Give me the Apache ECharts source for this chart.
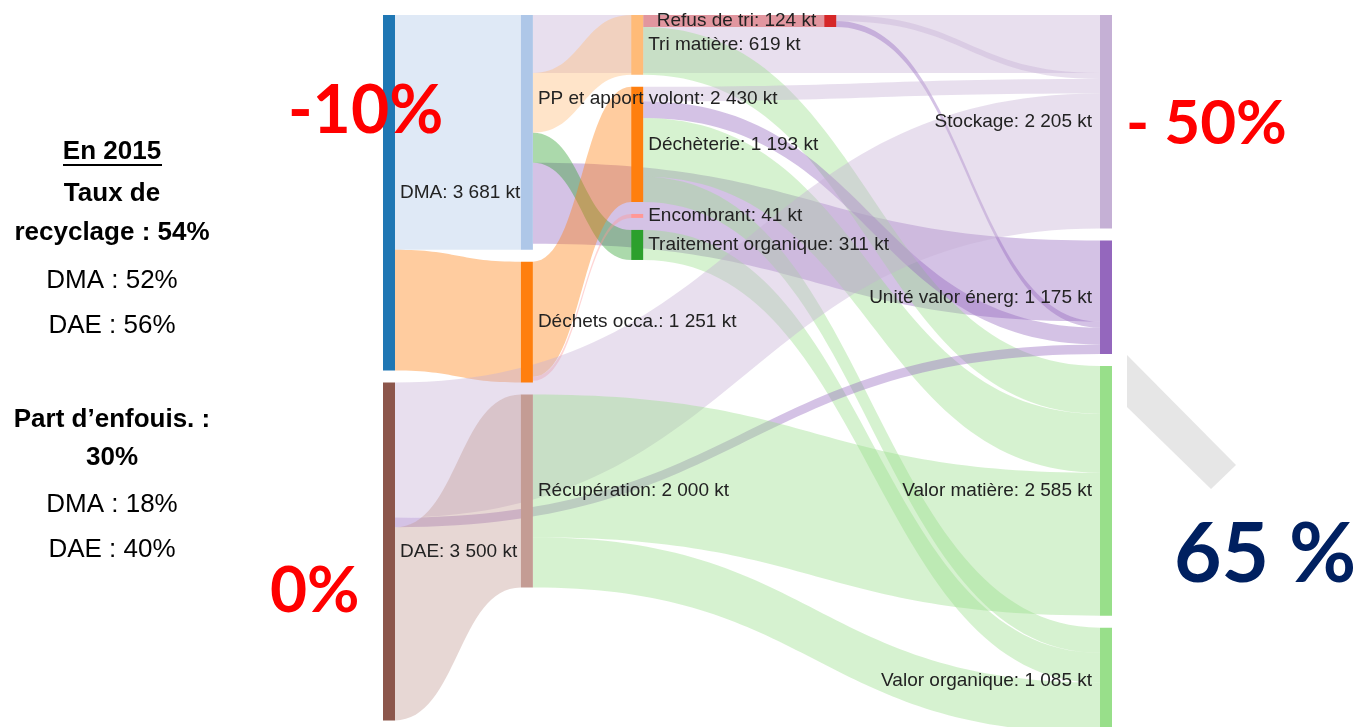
<!DOCTYPE html>
<html>
<head>
<meta charset="utf-8">
<script src="https://cdn.jsdelivr.net/npm/echarts@6/dist/echarts.min.js"></script>
<style>
  html, body { margin: 0; padding: 0; background: #fff; }
  #main { width: 1356px; height: 727px; }
</style>
</head>
<body>
<div id="main"></div>
<script>
// noeuds (kt)
var nodeNames = ['DMA', 'DAE', 'PP et apport volont', 'Déchets occa.', 'Récupération',
    'Tri matière', 'Déchèterie', 'Encombrant', 'Traitement organique', 'Refus de tri',
    'Stockage', 'Unité valor énerg', 'Valor matière', 'Valor organique'];
var nodeTotals = [3681, 3500, 2430, 1251, 2000, 619, 1193, 41, 311, 124, 2205, 1175, 2585, 1085];

// flux (kt)
var linkSources = ['DMA', 'DMA', 'PP et apport volont', 'PP et apport volont', 'PP et apport volont', 'PP et apport volont',
    'Tri matière', 'Tri matière', 'Refus de tri', 'Refus de tri', 'Déchets occa.', 'Déchets occa.',
    'Déchèterie', 'Déchèterie', 'Déchèterie', 'Déchèterie', 'Traitement organique',
    'DAE', 'DAE', 'DAE', 'Récupération', 'Récupération'];
var linkTargets = ['PP et apport volont', 'Déchets occa.', 'Stockage', 'Tri matière', 'Unité valor énerg', 'Traitement organique',
    'Refus de tri', 'Valor matière', 'Stockage', 'Unité valor énerg', 'Déchèterie', 'Encombrant',
    'Stockage', 'Unité valor énerg', 'Valor matière', 'Valor organique', 'Valor organique',
    'Stockage', 'Unité valor énerg', 'Récupération', 'Valor matière', 'Valor organique'];
var linkValues = [2430, 1251, 600, 619, 840, 311,
    124, 495, 62, 62, 1193, 41,
    150, 173, 610, 260, 311,
    1400, 100, 2000, 1480, 520];

// textes annexes
var sideLines = [
    {t: 'En 2015', y: 152, bold: true},
    {t: 'Taux de', y: 194, bold: true},
    {t: 'recyclage : 54%', y: 233, bold: true},
    {t: 'DMA : 52%', y: 281, bold: false},
    {t: 'DAE : 56%', y: 326, bold: false},
    {t: 'Part d\u2019enfouis. :', y: 420, bold: true},
    {t: '30%', y: 458, bold: true},
    {t: 'DMA : 18%', y: 505, bold: false},
    {t: 'DAE : 40%', y: 550, bold: false}
];

// style / colonnes
var colors = {
    'DMA': '#1f77b4', 'DAE': '#8c564b', 'PP et apport volont': '#aec7e8', 'Déchets occa.': '#ff7f0e',
    'Récupération': '#c49c94', 'Tri matière': '#ffbb78', 'Déchèterie': '#ff7f0e', 'Encombrant': '#ff9896',
    'Traitement organique': '#2ca02c', 'Refus de tri': '#d62728', 'Stockage': '#c5b0d5',
    'Unité valor énerg': '#9467bd', 'Valor matière': '#98df8a', 'Valor organique': '#98df8a'
};
var depths = {
    'DMA': 0, 'DAE': 0, 'PP et apport volont': 5, 'Déchets occa.': 5, 'Récupération': 5,
    'Tri matière': 9, 'Déchèterie': 9, 'Encombrant': 9, 'Traitement organique': 9,
    'Refus de tri': 16, 'Stockage': 26, 'Unité valor énerg': 26, 'Valor matière': 26, 'Valor organique': 26
};

function fmt(v) {
    return String(v).replace(/\B(?=(\d{3})+(?!\d))/g, ' ');
}

var nodes = nodeNames.map(function (name, i) {
    var right = depths[name] > 13;
    var lbl = {position: right ? 'left' : 'right', distance: right ? 8 : 5};
    // eviter le chevauchement avec l'etiquette Déchèterie
    if (name === 'PP et apport volont') lbl.offset = [0, -34];
    return {
        name: name,
        value: nodeTotals[i],
        depth: depths[name],
        itemStyle: {color: colors[name]},
        label: lbl
    };
});
var links = linkValues.map(function (v, i) {
    return {source: linkSources[i], target: linkTargets[i], value: v};
});

var graphics = [];
sideLines.forEach(function (l) {
    graphics.push({
        type: 'text', x: 112, y: l.y,
        style: {
            text: l.t, align: 'center', verticalAlign: 'middle',
            fontFamily: 'Liberation Sans', fontSize: 26,
            fontWeight: l.bold ? 'bold' : 'normal', fill: '#000'
        }
    });
});
// soulignement "En 2015"
graphics.push({type: 'line', shape: {x1: 63, y1: 165, x2: 162, y2: 165}, style: {stroke: '#000', lineWidth: 2}});
// bande grise
graphics.push({type: 'polygon', shape: {points: [[1127, 355], [1236, 465], [1211, 489], [1127, 407]]}, style: {fill: '#e6e6e6'}, z: -1});

function bigText(t, x, y, size, color) {
    return {
        type: 'text', x: x, y: y, z: 10,
        style: {text: t, align: 'left', verticalAlign: 'middle', fontFamily: 'Lato', fontWeight: 'bold', fontSize: size, fill: color}
    };
}
graphics.push(bigText('-10%', 288, 112, 66, '#ff0000'));
graphics.push(bigText('- 50%', 1126, 124, 62, '#ff0000'));
graphics.push(bigText('0%', 270, 591, 64, '#ff0000'));
graphics.push(bigText('65 %', 1174, 556, 82, '#002060'));

var myChart = echarts.init(document.getElementById('main'));
var option = {
    backgroundColor: '#fff',
    animation: false,
    graphic: graphics,
    series: [{
        type: 'sankey',
        left: 383,
        top: 15,
        width: 729,
        height: 718,
        nodeWidth: 12,
        nodeGap: 12,
        nodeAlign: 'left',
        layoutIterations: 0,
        draggable: false,
        emphasis: {disabled: true},
        data: nodes,
        links: links,
        label: {
            color: '#222',
            fontFamily: 'Liberation Sans',
            fontSize: 19,
            formatter: function (p) {
                return p.name + ': ' + fmt(nodeTotals[nodeNames.indexOf(p.name)]) + ' kt';
            }
        },
        itemStyle: {borderWidth: 0},
        lineStyle: {color: 'target', opacity: 0.4, curveness: 0.5}
    }]
};
myChart.setOption(option);
</script>
</body>
</html>
